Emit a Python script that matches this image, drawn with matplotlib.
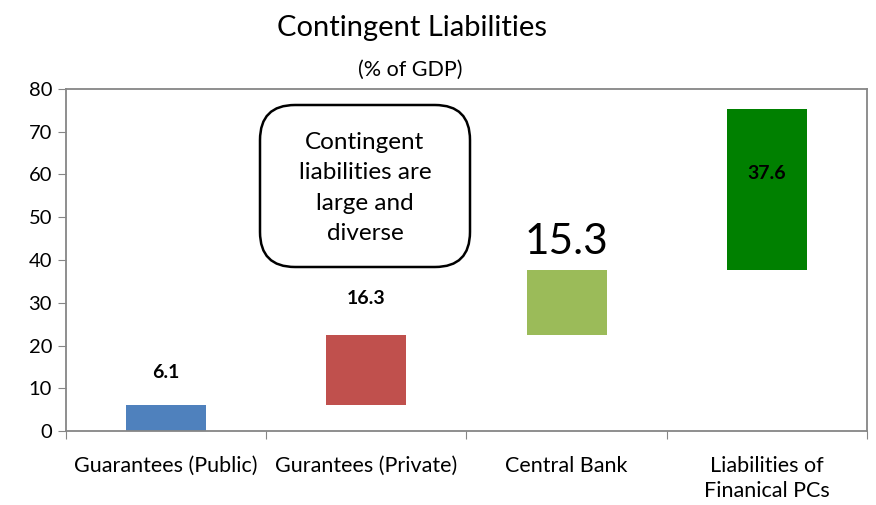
import matplotlib.pyplot as plt
from matplotlib.patches import FancyBboxPatch

plt.rcParams['font.family'] = ['Lato', 'DejaVu Sans']

categories = ['Guarantees (Public)', 'Gurantees (Private)', 'Central Bank', 'Liabilities of\nFinanical PCs']
values = [6.1, 16.3, 15.3, 37.6]
colors = ['#4F81BD', '#C0504D', '#9BBB59', '#008000']

# waterfall: each bar starts where the previous one ended
bases = []
total = 0
for v in values:
    bases.append(total)
    total += v

fig = plt.figure(figsize=(8.76, 5.05), dpi=100)
ax = fig.add_axes([0.0753, 0.1465, 0.9144, 0.6773])

x = list(range(len(values)))
ax.bar(x, values, bottom=bases, width=0.4, color=colors)

ax.set_xlim(-0.5, 3.5)
ax.set_ylim(0, 80)
ax.set_yticks(range(0, 81, 10))
ax.set_xticks([-0.5, 0.5, 1.5, 2.5, 3.5])
ax.set_xticklabels([])
ax.set_xticks(x, minor=True)
ax.set_xticklabels(categories, minor=True, fontsize=15.5, linespacing=1.3, va='top')
ax.tick_params(axis='x', which='minor', length=0, pad=18)
ax.tick_params(axis='x', which='major', length=6, color='#868686', direction='out')
ax.tick_params(axis='y', length=6, color='#868686', labelsize=14.5, pad=4)
for s in ax.spines.values():
    s.set_color('#868686')
    s.set_linewidth(1.3)

# value labels
ax.text(0, bases[0] + values[0] + 7.7, '6.1', ha='center', va='center', fontsize=14, fontweight='bold')
ax.text(1, bases[1] + values[1] + 8.6, '16.3', ha='center', va='center', fontsize=14, fontweight='bold')
ax.text(2, bases[2] + values[2] + 6.5, '15.3', ha='center', va='center', fontsize=30.5)
ax.text(3, bases[3] + values[3] * 0.6, '37.6', ha='center', va='center', fontsize=14, fontweight='bold')

# callout box
fig.patches.append(FancyBboxPatch((260 / 876, 1 - 267 / 505), 210 / 876, 162 / 505,
                                  boxstyle='round,pad=0,rounding_size=0.04',
                                  transform=fig.transFigure, facecolor='white',
                                  edgecolor='black', linewidth=1.8, mutation_aspect=876 / 505))
fig.text(365 / 876, 1 - 188 / 505, 'Contingent\nliabilities are\nlarge and\ndiverse',
         ha='center', va='center', fontsize=17.5, linespacing=1.55)

fig.text(412 / 876, 1 - 28 / 505, 'Contingent Liabilities', ha='center', va='center', fontsize=21)
fig.text(410 / 876, 1 - 70 / 505, '(% of GDP)', ha='center', va='center', fontsize=15.5)

fig.savefig('out.png', dpi=100)
